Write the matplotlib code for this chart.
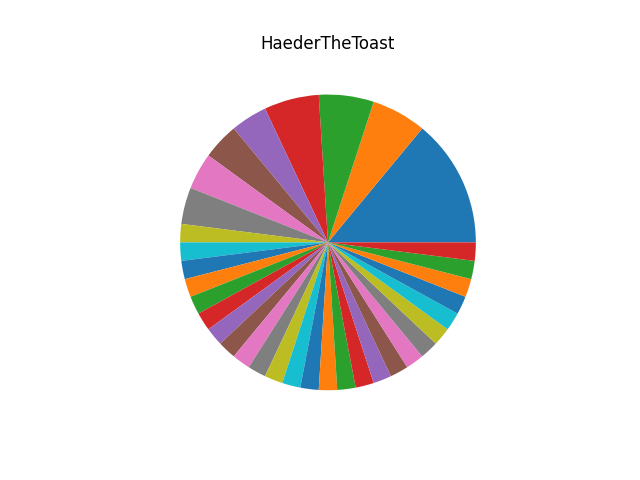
import matplotlib
matplotlib.use('Agg')
import matplotlib.pyplot as plt

# Counts per slice (unit = 7.2 degrees)
counts = [7, 3, 3, 3, 2, 2, 2, 2] + [1] * 26

fig, ax = plt.subplots(figsize=(6.4, 4.8), dpi=100)
ax.pie(counts)
ax.set_title('HaederTheToast')
plt.savefig('out.png')
